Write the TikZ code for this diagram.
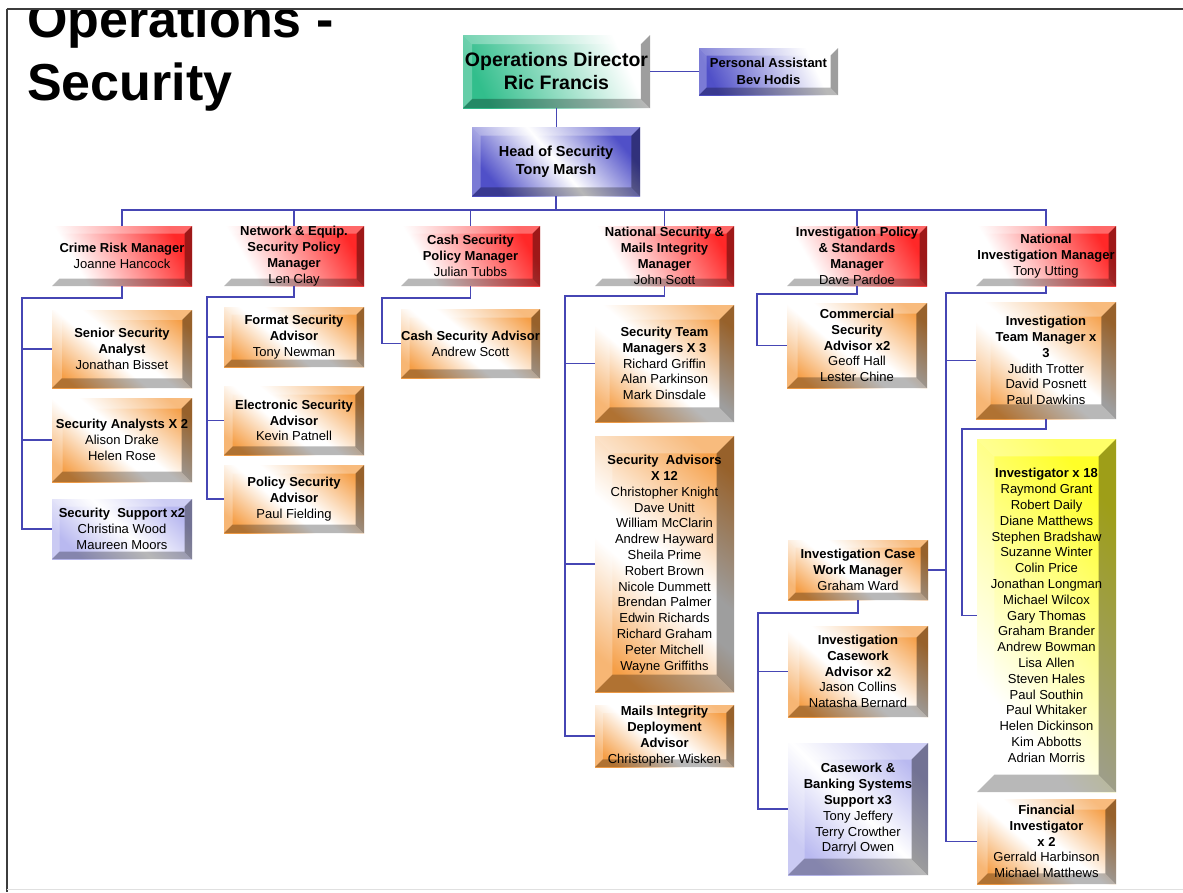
\documentclass[tikz,border=0pt]{standalone}
\usepackage{fontspec}
\setmainfont{Liberation Sans}
\usetikzlibrary{calc}
\definecolor{redc}{RGB}{255,40,40}
\definecolor{orc}{RGB}{245,158,70}
\definecolor{bluec}{RGB}{80,80,200}
\definecolor{lavc}{RGB}{185,185,240}
\definecolor{greenc}{RGB}{50,190,140}
\definecolor{yelc}{RGB}{255,255,40}
\definecolor{linec}{RGB}{70,70,180}
\definecolor{framec}{RGB}{60,60,60}
\pgfdeclarehorizontalshading{redsh}{100bp}{color(0bp)=(white); color(30bp)=(white); color(75bp)=(redc); color(100bp)=(redc)}
\pgfdeclarehorizontalshading{orsh}{100bp}{color(0bp)=(orc); color(22bp)=(orc); color(44bp)=(white); color(52bp)=(white); color(78bp)=(orc); color(100bp)=(orc)}
\pgfdeclarehorizontalshading{bluesh}{100bp}{color(0bp)=(bluec); color(25bp)=(bluec); color(50bp)=(white); color(75bp)=(bluec); color(100bp)=(bluec)}
\pgfdeclarehorizontalshading{pash}{100bp}{color(0bp)=(bluec); color(25bp)=(bluec); color(70bp)=(white); color(100bp)=(white)}
\pgfdeclarehorizontalshading{lavsh}{100bp}{color(0bp)=(lavc); color(25bp)=(lavc); color(50bp)=(white); color(75bp)=(lavc); color(100bp)=(lavc)}
\pgfdeclarehorizontalshading{greensh}{100bp}{color(0bp)=(greenc); color(25bp)=(greenc); color(72bp)=(white); color(100bp)=(white)}
\pgfdeclarehorizontalshading{yelsh}{100bp}{color(0bp)=(white); color(30bp)=(white); color(75bp)=(yelc); color(100bp)=(yelc)}
\newcommand\boxfont{\fontsize{13}{15.8}\selectfont}
\tikzset{
  bevel/.style={rectangle, inner sep=0pt, align=center, shade, font=\boxfont,
    path picture={
      \fill[white,fill opacity=.3] let \p1=(path picture bounding box.south west), \p2=(path picture bounding box.north east), \n1={max(7.5,0.125*min(\x2-\x1,\y2-\y1))} in
        (\x1,\y2) -- (\x2,\y2) -- (\x2-\n1,\y2-\n1) -- (\x1+\n1,\y2-\n1) -- cycle;
      \fill[white,fill opacity=.25] let \p1=(path picture bounding box.south west), \p2=(path picture bounding box.north east), \n1={max(7.5,0.125*min(\x2-\x1,\y2-\y1))} in
        (\x1,\y1) -- (\x1,\y2) -- (\x1+\n1,\y2-\n1) -- (\x1+\n1,\y1+\n1) -- cycle;
      \fill[black,fill opacity=.38] let \p1=(path picture bounding box.south west), \p2=(path picture bounding box.north east), \n1={max(7.5,0.125*min(\x2-\x1,\y2-\y1))} in
        (\x2,\y2) -- (\x2,\y1) -- (\x2-\n1,\y1+\n1) -- (\x2-\n1,\y2-\n1) -- cycle;
      \fill[black,fill opacity=.28] let \p1=(path picture bounding box.south west), \p2=(path picture bounding box.north east), \n1={max(7.5,0.125*min(\x2-\x1,\y2-\y1))} in
        (\x1,\y1) -- (\x2,\y1) -- (\x2-\n1,\y1+\n1) -- (\x1+\n1,\y1+\n1) -- cycle;
    }},
  redbox/.style={shading=redsh, shading angle=30},
  orbox/.style={shading=orsh, shading angle=50},
  bluebox/.style={shading=bluesh, shading angle=40},
  pabox/.style={shading=pash, shading angle=25},
  lavbox/.style={shading=lavsh, shading angle=45},
  greenbox/.style={shading=greensh, shading angle=25},
  yelbox/.style={shading=yelsh, shading angle=40},
  conn/.style={draw=linec, line width=1.3pt},
  titletext/.style={anchor=base west, inner sep=0pt, font=\fontsize{52}{62}\selectfont\bfseries},
}
\newcommand\bx[7]{\node[bevel,#6,minimum width={#4-#2},minimum height={#5-#3}] (#1) at ({(#2+#4)/2},{(#3+#5)/2}) {#7};}
\begin{document}
\begin{tikzpicture}[x=1pt,y=-1pt]
\useasboundingbox (0,0) rectangle (1183,892);
\fill[white] (0,0) rectangle (1183,892);
% title
\begin{scope}
\clip (0,9.5) rectangle (1183,892);
\node[titletext] (t1) at (27,37) {Operations -};
\node[titletext] (t2) at (27,100) {Security};
\end{scope}
% frame
\draw[framec, line width=2pt] (6.5,8.5) -- (1183,8.5);
\draw[framec, line width=2pt] (6.5,8.5) -- (6.5,892);
\draw[black!12, line width=1pt] (7,889.5) -- (1183,889.5);
% boxes
\bx{od}{463}{35}{650}{108}{greenbox,font=\fontsize{19.5}{23}\selectfont\bfseries}{Operations Director\\Ric Francis}
\bx{pa}{699}{48}{838}{95}{pabox,font=\fontsize{13}{16.5}\selectfont\bfseries}{Personal Assistant\\Bev Hodis}
\bx{hos}{472}{127}{640}{196}{bluebox,font=\fontsize{14.5}{18}\selectfont\bfseries}{Head of Security\\Tony Marsh}
\bx{crm}{52}{226}{192}{286}{redbox}{\textbf{Crime Risk Manager}\\Joanne Hancock}
\bx{net}{224}{226}{364}{286}{redbox}{\textbf{Network \& Equip.}\\\textbf{Security Policy}\\\textbf{Manager}\\Len Clay}
\bx{csp}{401}{226}{540}{286}{redbox}{\textbf{Cash Security}\\\textbf{Policy Manager}\\Julian Tubbs}
\bx{nsm}{595}{226}{734}{286}{redbox}{\textbf{National Security \&}\\\textbf{Mails Integrity}\\\textbf{Manager}\\John Scott}
\bx{ips}{787}{226}{927}{286}{redbox}{\textbf{Investigation Policy}\\\textbf{\& Standards}\\\textbf{Manager}\\Dave Pardoe}
\bx{nim}{976}{226}{1116}{286}{redbox}{\textbf{National}\\\textbf{Investigation Manager}\\Tony Utting}
\bx{ssa}{52}{310}{192}{388}{orbox}{\textbf{Senior Security}\\\textbf{Analyst}\\Jonathan Bisset}
\bx{sa2}{52}{398}{192}{482}{orbox}{\textbf{Security Analysts X 2}\\Alison Drake\\Helen Rose}
\bx{sup}{52}{499}{192}{559}{lavbox}{\textbf{Security\ \ Support x2}\\Christina Wood\\Maureen Moors}
\bx{fsa}{224}{307}{364}{367}{orbox}{\textbf{Format Security}\\\textbf{Advisor}\\Tony Newman}
\bx{esa}{224}{386}{364}{455}{orbox}{\textbf{Electronic Security}\\\textbf{Advisor}\\Kevin Patnell}
\bx{psa}{224}{465}{364}{533}{orbox}{\textbf{Policy Security}\\\textbf{Advisor}\\Paul Fielding}
\bx{csa}{401}{309}{540}{378}{orbox}{\textbf{Cash Security Advisor}\\Andrew Scott}
\bx{stm}{595}{305}{734}{422}{orbox}{\textbf{Security Team}\\\textbf{Managers X 3}\\Richard Griffin\\Alan Parkinson\\Mark Dinsdale}
\bx{sadv}{595}{436}{734}{692}{orbox}{\textbf{Security\ \ Advisors}\\\textbf{X 12}\\Christopher Knight\\Dave Unitt\\William McClarin\\Andrew Hayward\\Sheila Prime\\Robert Brown\\Nicole Dummett\\Brendan Palmer\\Edwin Richards\\Richard Graham\\Peter Mitchell\\Wayne Griffiths}
\bx{mida}{595}{705}{734}{767}{orbox}{\textbf{Mails Integrity}\\\textbf{Deployment}\\\textbf{Advisor}\\Christopher Wisken}
\bx{comm}{787}{303}{927}{388}{orbox}{\textbf{Commercial}\\\textbf{Security}\\\textbf{Advisor x2}\\Geoff Hall\\Lester Chine}
\bx{itm}{976}{302}{1116}{419}{orbox}{\textbf{Investigation}\\\textbf{Team Manager x}\\\textbf{3}\\Judith Trotter\\David Posnett\\Paul Dawkins}
\bx{inv}{977}{439}{1116}{792}{yelbox}{\textbf{Investigator x 18}\\Raymond Grant\\Robert Daily\\Diane Matthews\\Stephen Bradshaw\\Suzanne Winter\\Colin Price\\Jonathan Longman\\Michael Wilcox\\Gary Thomas\\Graham Brander\\Andrew Bowman\\Lisa Allen\\Steven Hales\\Paul Southin\\Paul Whitaker\\Helen Dickinson\\Kim Abbotts\\Adrian Morris}
\bx{fin}{977}{799}{1116}{884}{orbox}{\textbf{Financial}\\\textbf{Investigator}\\\textbf{x 2}\\Gerrald Harbinson\\Michael Matthews}
\bx{icwm}{788}{540}{928}{600}{orbox}{\textbf{Investigation Case}\\\textbf{Work Manager}\\Graham Ward}
\bx{icad}{788}{626}{928}{717}{orbox}{\textbf{Investigation}\\\textbf{Casework}\\\textbf{Advisor x2}\\Jason Collins\\Natasha Bernard}
\bx{cbs}{788}{743}{928}{875}{lavbox}{\textbf{Casework \&}\\\textbf{Banking Systems}\\\textbf{Support x3}\\Tony Jeffery\\Terry Crowther\\Darryl Owen}
% connectors
\coordinate (bus) at (0,210);
\draw[conn] (od.east) -- (pa.west);
\draw[conn] (od.south) -- (od.south |- hos.north);
\draw[conn] (hos.south) -- (hos.south |- bus);
\draw[conn] (crm.north) -- (crm.north |- bus) -- (nim.north |- bus) -- (nim.north);
\foreach \n in {net,csp,nsm,ips} \draw[conn] (\n.north) -- (\n.north |- bus);
\coordinate (s1) at (22,298);
\draw[conn] (crm.south) |- (s1) |- (sup.west);
\draw[conn] (s1 |- ssa.west) -- (ssa.west);
\draw[conn] (s1 |- sa2.west) -- (sa2.west);
\coordinate (s2) at (207,297);
\draw[conn] (net.south) |- (s2) |- (psa.west);
\draw[conn] (s2 |- fsa.west) -- (fsa.west);
\draw[conn] (s2 |- esa.west) -- (esa.west);
\coordinate (s3) at (382,298);
\draw[conn] (csp.south) |- (s3) |- (csa.west);
\coordinate (s4) at (565,296);
\draw[conn] (nsm.south) |- (s4) |- (mida.west);
\draw[conn] (s4 |- stm.west) -- (stm.west);
\draw[conn] (s4 |- sadv.west) -- (sadv.west);
\coordinate (s5) at (757,294);
\draw[conn] (ips.south) |- (s5) |- (comm.west);
\coordinate (s6) at (946,293);
\draw[conn] (nim.south) |- (s6) |- (fin.west);
\draw[conn] (s6 |- itm.west) -- (itm.west);
\draw[conn] (s6 |- icwm.east) -- (icwm.east);
\coordinate (s7) at (962,429);
\draw[conn] (itm.south) |- (s7) |- (inv.west);
\coordinate (s8) at (758,613);
\draw[conn] (icwm.south) |- (s8) |- (cbs.west);
\draw[conn] (s8 |- icad.west) -- (icad.west);
\end{tikzpicture}
\end{document}
